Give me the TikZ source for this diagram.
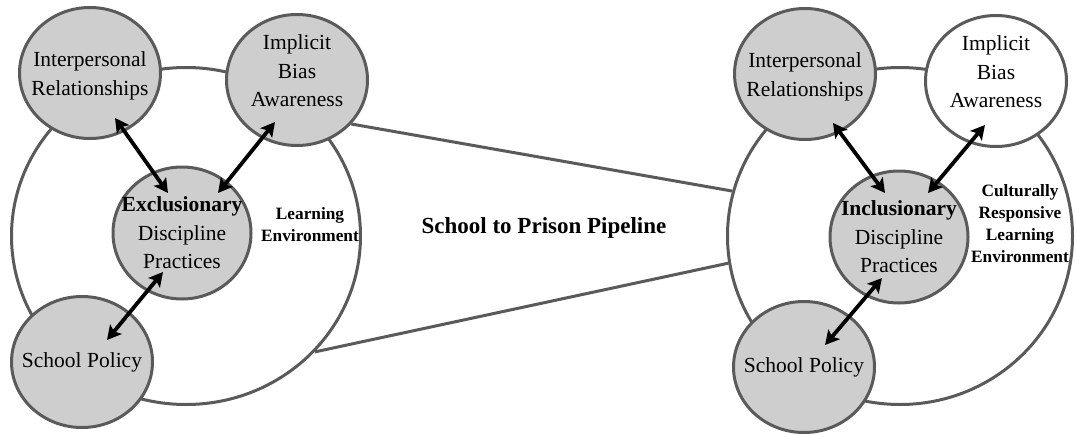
\documentclass[tikz,border=0pt]{standalone}
\usepackage{fontspec}
\setmainfont{Liberation Serif}
\usetikzlibrary{shapes.geometric,arrows.meta,calc}
\definecolor{rimgray}{RGB}{90,90,90}
\definecolor{bubgray}{RGB}{206,206,206}

\begin{document}
\begin{tikzpicture}[x=1pt,y=-1pt,
    env/.style={ellipse,draw=rimgray,line width=3pt,fill=white,inner sep=0pt},
    bub/.style={ellipse,draw=rimgray,line width=3pt,fill=bubgray,inner sep=0pt,
      minimum width=141pt,minimum height=131pt},
    core/.style={bub,minimum width=138pt,minimum height=132pt},
    txt/.style={align=center,inner sep=0pt,font=\fontsize{21.5}{28.5}\selectfont},
    note/.style={align=center,inner sep=0pt,font=\fontsize{17.3}{22}\selectfont\bfseries},
    pipe/.style={rimgray,line width=3pt},
    link/.style={{Stealth[length=14pt,width=15pt,inset=3pt]}-{Stealth[length=14pt,width=15pt,inset=3pt]},
      line width=3.8pt,black}]
  \useasboundingbox (0,0) rectangle (1076,436);

  % left: exclusionary practices
  \node[env,minimum width=349pt,minimum height=337pt] (leL) at (186,236) {};
  \node[bub] (ipL) at (90,73) {};
  \node[bub] (ibL) at (297,80) {};
  \node[core] (exL) at (182,233) {};
  \node[bub] (spL) at (82,362) {};

  % right: inclusionary practices
  \node[env,minimum width=345pt,minimum height=337pt] (crR) at (900,236) {};
  \node[bub] (ipR) at (805,74) {};
  \node[bub,fill=white] (ibR) at (996,81) {};
  \node[core] (inR) at (899,237) {};
  \node[bub] (spR) at (804,367) {};

  % the pipeline
  \draw[pipe] (ibL.-39) -- (crR.165);
  \draw[pipe] (leL.-42) -- (crR.-171);

  \draw[link] ($(ipL)+(25,45)$) -- ($(exL)+(-14,-40)$);
  \draw[link] ($(ibL)+(-22,42)$) -- ($(exL)+(36,-40)$);
  \draw[link] ($(exL)+(-19,39)$) -- ($(spL)+(25,-22)$);
  \draw[link] ($(ipR)+(28,49)$) -- ($(inR)+(-14,-44)$);
  \draw[link] ($(ibR)+(-11,44)$) -- ($(inR)+(29,-44)$);
  \draw[link] ($(inR)+(-17,41)$) -- ($(spR)+(21,-22)$);

  \node[txt] (ipLt) at ([yshift=-3pt]ipL) {Interpersonal\\Relationships};
  \node[txt] (ibLt) at ([yshift=9pt]ibL) {Implicit\\Bias\\Awareness};
  \node[txt] (exLt) at (exL) {\textbf{Exclusionary}\\Discipline\\Practices};
  \node[txt] (spLt) at (spL) {School Policy};
  \node[note] (leLt) at (310,225) {Learning\\Environment};

  \node[txt] (ipRt) at ([yshift=-3pt]ipR) {Interpersonal\\Relationships};
  \node[txt] (ibRt) at ([yshift=9pt]ibR) {Implicit\\Bias\\Awareness};
  \node[txt] (inRt) at (inR) {\textbf{Inclusionary}\\Discipline\\Practices};
  \node[txt] (spRt) at (spR) {School Policy};
  \node[note] (crRt) at (1020,224) {Culturally\\Responsive\\Learning\\Environment};

  \node[font=\fontsize{23}{28}\selectfont\bfseries] (pipet) at (544,228) {School to Prison Pipeline};
\end{tikzpicture}
\end{document}
